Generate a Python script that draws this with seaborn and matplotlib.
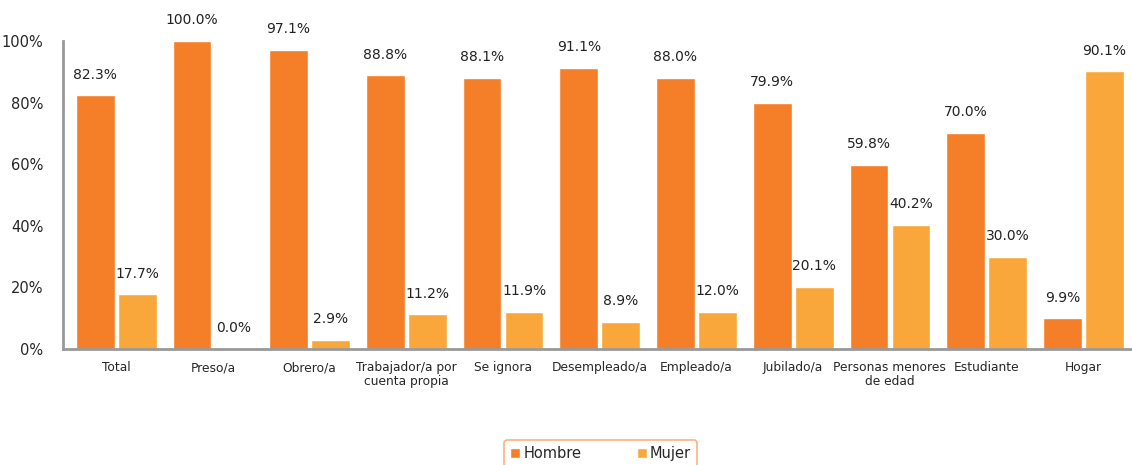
import pandas as pd
import matplotlib.pyplot as plt
import seaborn as sns
import matplotlib.ticker as mticker

categories = ['Total', 'Preso/a', 'Obrero/a', 'Trabajador/a por\ncuenta propia', 'Se ignora',
              'Desempleado/a', 'Empleado/a', 'Jubilado/a', 'Personas menores\nde edad',
              'Estudiante', 'Hogar']
hombre = [82.3, 100.0, 97.1, 88.8, 88.1, 91.1, 88.0, 79.9, 59.8, 70.0, 9.9]
mujer = [17.7, 0.0, 2.9, 11.2, 11.9, 8.9, 12.0, 20.1, 40.2, 30.0, 90.1]
series = ['Hombre', 'Mujer']
colors = ['#F47F28', '#F9A73A']

df = pd.DataFrame({
    'cat': categories * 2,
    'sexo': ['Hombre'] * len(categories) + ['Mujer'] * len(categories),
    'valor': hombre + mujer,
})

sns.set_style('white')
plt.rcParams['font.family'] = ['DejaVu Sans']

fig = plt.figure(figsize=(11.32, 4.65), dpi=100)
ax = fig.add_axes([0.0557, 0.2495, 0.944, 0.6625])

sns.barplot(data=df, x='cat', y='valor', hue='sexo', hue_order=series,
            palette=colors, width=0.87, gap=0.08, saturation=1, ax=ax)

# value labels above each bar
for cont in ax.containers:
    labels = [f'{v:.1f}%' for v in cont.datavalues]
    ax.bar_label(cont, labels=labels, padding=10, fontsize=10, color='#222222')

ax.set_ylim(0, 100)
ax.set_xlim(-0.55, 10.5)
ax.yaxis.set_major_locator(mticker.MultipleLocator(20))
ax.yaxis.set_major_formatter(mticker.FuncFormatter(lambda v, p: f'{v:.0f}%'))
ax.set_xlabel('')
ax.set_ylabel('')
ax.tick_params(axis='y', labelsize=10.5, length=0, pad=14)
ax.tick_params(axis='x', labelsize=8.8, length=0, pad=9)
for lbl in ax.get_xticklabels():
    lbl.set_linespacing(1.05)

for s in ['top', 'right']:
    ax.spines[s].set_visible(False)
for s in ['left', 'bottom']:
    ax.spines[s].set_color('#999999')
    ax.spines[s].set_linewidth(2)

leg = ax.legend(loc='upper center', bbox_to_anchor=(0.503, -0.296), ncol=2,
                frameon=True, fancybox=True, fontsize=10.5, handlelength=0.7,
                handleheight=0.7, columnspacing=3.8, borderpad=0.4,
                handletextpad=0.2, borderaxespad=0)
leg.get_frame().set_edgecolor('#F9A060')
leg.get_frame().set_linewidth(1.2)

fig.savefig('out.png', dpi=100)
